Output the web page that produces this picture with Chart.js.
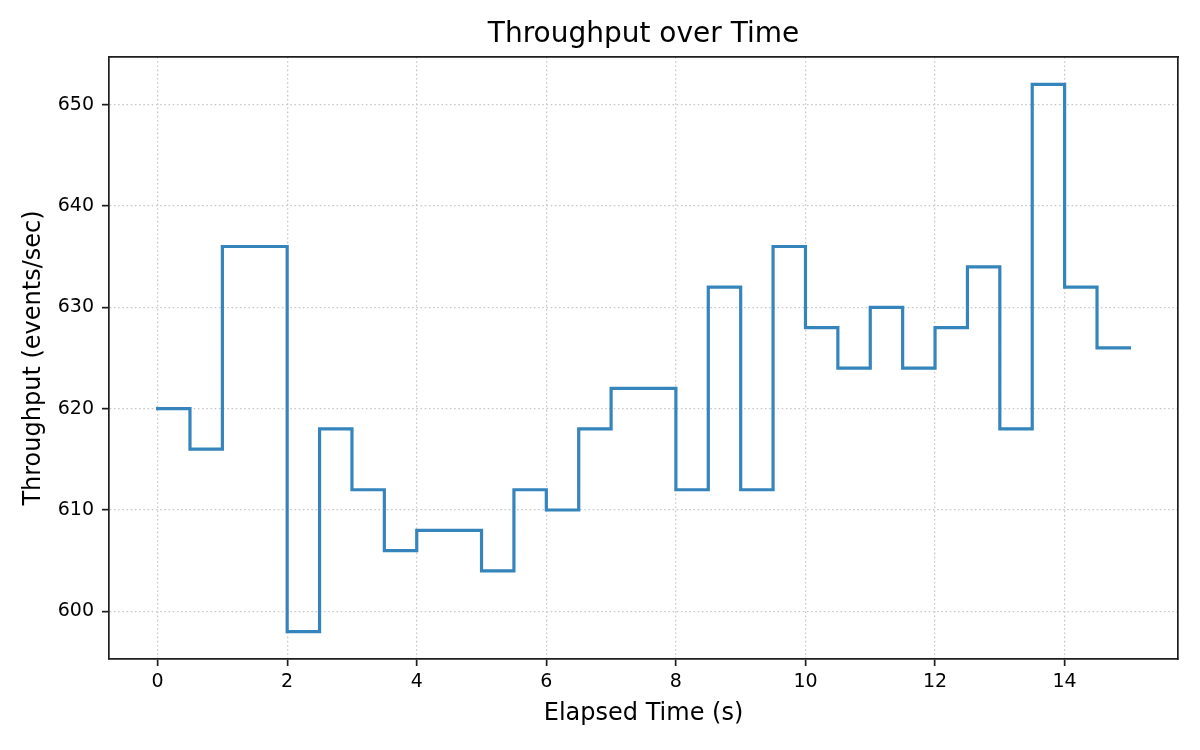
<!DOCTYPE html>
<html>
<head>
<meta charset="utf-8">
<title>Throughput over Time</title>
<script src="https://cdn.jsdelivr.net/npm/chart.js@4.4.1/dist/chart.umd.min.js"></script>
<style>
  html, body { margin: 0; padding: 0; background: #fff; }
  #wrap { width: 1200px; height: 750px; }
</style>
</head>
<body>
<div id="wrap"><canvas id="throughputChart" width="1200" height="750"></canvas></div>
<script>
// ========== DATA ==========
const elapsed = [0, 0.5, 1, 1.5, 2, 2.5, 3, 3.5, 4, 4.5, 5, 5.5, 6, 6.5, 7, 7.5,
  8, 8.5, 9, 9.5, 10, 10.5, 11, 11.5, 12, 12.5, 13, 13.5, 14, 14.5, 15];
const throughput = [620, 616, 636, 636, 598, 618, 612, 606, 608, 608, 604, 612, 610, 618, 622, 622,
  612, 632, 612, 636, 628, 624, 630, 624, 628, 634, 618, 652, 632, 626, 626];

const xTicks = [0, 2, 4, 6, 8, 10, 12, 14];
const yTicks = [600, 610, 620, 630, 640, 650];
const xRange = [-0.75, 15.75];
const yRange = [595.3, 654.7];

// ========== STYLE ==========
const FONT = 'DejaVu Sans';
const LINE_COLOR = '#3585bc';
const AXIS_COLOR = '#1e1e1e';
const GRID_COLOR = '#c8c8c8';

Chart.defaults.font.family = FONT;
Chart.defaults.color = '#000';

const points = elapsed.map((t, i) => ({ x: t, y: throughput[i] }));

// eixo "moldura" (sem ticks) para fechar o quadro em cima e à direita
function frameAxis(axis, position, extra) {
  return Object.assign({
    type: 'linear',
    axis,
    position,
    display: true,
    min: axis === 'x' ? xRange[0] : yRange[0],
    max: axis === 'x' ? xRange[1] : yRange[1],
    ticks: { display: false },
    grid: { display: false, drawTicks: false },
    border: { display: true, color: AXIS_COLOR, width: 1.7 }
  }, extra);
}

const ctx = document.getElementById('throughputChart').getContext('2d');
new Chart(ctx, {
  type: 'line',
  data: {
    datasets: [{
      label: 'Throughput',
      data: points,
      stepped: 'before',
      borderColor: LINE_COLOR,
      borderWidth: 3.2,
      borderCapStyle: 'square',
      borderJoinStyle: 'miter',
      pointRadius: 0,
      pointHoverRadius: 0,
      fill: false,
      tension: 0
    }]
  },
  options: {
    responsive: false,
    animation: false,
    devicePixelRatio: 1,
    layout: { padding: 0 },
    plugins: {
      legend: { display: false },
      title: { display: false },
      tooltip: { enabled: false }
    },
    scales: {
      x: {
        type: 'linear',
        position: 'bottom',
        min: xRange[0],
        max: xRange[1],
        afterBuildTicks: s => { s.ticks = xTicks.map(v => ({ value: v })); },
        afterFit: s => { s.height = 91; },
        ticks: {
          autoSkip: false,
          maxRotation: 0,
          padding: 5,
          color: '#000',
          font: { size: 19 }
        },
        grid: {
          color: GRID_COLOR,
          lineWidth: 1.3,
          tickLength: 7,
          tickColor: AXIS_COLOR,
          tickWidth: 1.7,
          tickBorderDash: []
        },
        border: { color: AXIS_COLOR, width: 1.7, dash: [1.6, 2.6] },
        title: {
          display: true,
          text: 'Elapsed Time (s)',
          color: '#000',
          font: { size: 24 },
          padding: { top: 0, bottom: 22 }
        }
      },
      y: {
        type: 'linear',
        position: 'left',
        min: yRange[0],
        max: yRange[1],
        afterBuildTicks: s => { s.ticks = yTicks.map(v => ({ value: v })); },
        afterFit: s => { s.width = 109; },
        ticks: {
          padding: 8,
          color: '#000',
          font: { size: 19 }
        },
        grid: {
          color: GRID_COLOR,
          lineWidth: 1.3,
          tickLength: 7,
          tickColor: AXIS_COLOR,
          tickWidth: 1.7,
          tickBorderDash: []
        },
        border: { color: AXIS_COLOR, width: 1.7, dash: [1.6, 2.6] },
        title: {
          display: true,
          text: 'Throughput (events/sec)',
          color: '#000',
          font: { size: 24 },
          padding: { top: 19, bottom: 0 }
        }
      },
      x2: frameAxis('x', 'top', {
        afterFit: s => { s.height = 57; },
        title: {
          display: true,
          text: 'Throughput over Time',
          color: '#000',
          font: { size: 28 },
          padding: { top: 17.5, bottom: 0 }
        }
      }),
      y2: frameAxis('y', 'right', {
        afterFit: s => { s.width = 22; }
      })
    }
  }
});
</script>
</body>
</html>
